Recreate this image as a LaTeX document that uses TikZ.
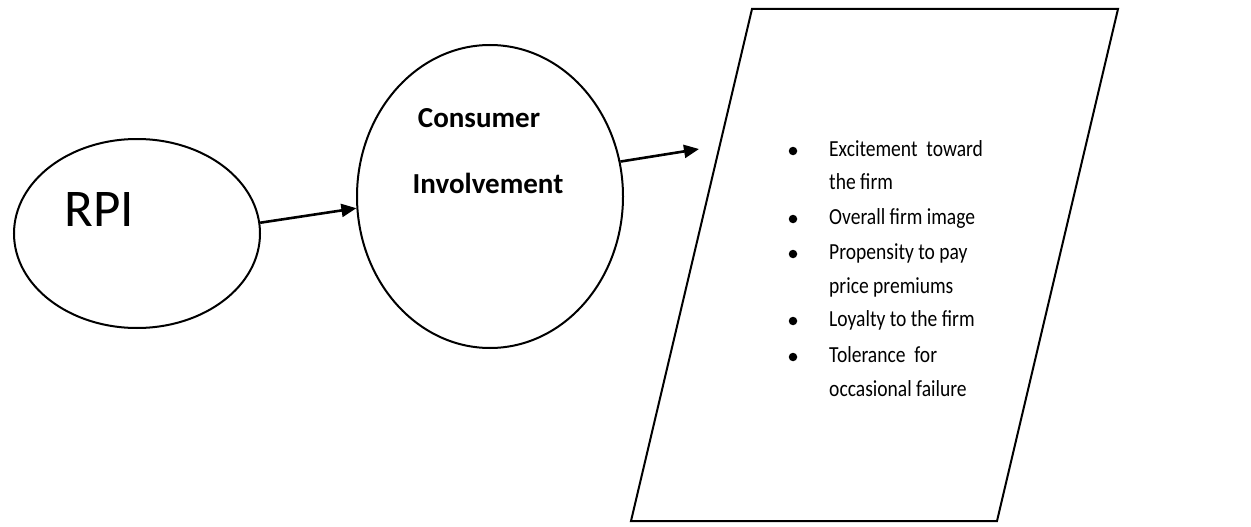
\documentclass[tikz,border=0pt]{standalone}
\usepackage{fontspec}
\setmainfont{Carlito}
\newfontfamily\narrowfont[FakeStretch=0.85]{Carlito}
\usetikzlibrary{shapes.geometric,arrows.meta}
\begin{document}
\begin{tikzpicture}[x=1pt,y=-1pt,
  shapebox/.style={draw,line width=2pt,ellipse,inner sep=0pt},
  conn/.style={line width=2.6pt,-{Triangle[length=15pt,width=13pt]}},
  txt/.style={anchor=base,inner sep=0pt},
  item/.style={anchor=base west,inner sep=0pt,font=\narrowfont\fontsize{23}{28}\selectfont},
  dot/.style={circle,fill,inner sep=0pt,minimum size=8.5pt}]
\useasboundingbox (0,0) rectangle (1251,527);
% ellipses
\node[shapebox,minimum width=246pt,minimum height=189pt] (rpi) at (137,233.5) {};
\node[txt,font=\fontsize{53}{60}\selectfont] (rpit) at (99.5,226) {RPI};
\node[shapebox,minimum width=266pt,minimum height=303pt] (ci) at (490,196.5) {};
\node[txt,font=\fontsize{29}{34}\selectfont\bfseries] (cit1) at (479,127) {Consumer};
\node[txt,font=\fontsize{29}{34}\selectfont\bfseries] (cit2) at (488,193) {Involvement};
% parallelogram
\coordinate (p1) at (752,9);
\coordinate (p2) at (1118,9);
\coordinate (p3) at (997,521);
\coordinate (p4) at (631,521);
\draw[line width=2pt] (p1) -- (p2) -- (p3) -- (p4) -- cycle;
% arrows
\coordinate (tip) at (699,149);
\draw[conn] (rpi.5) -- (ci.185);
\draw[conn] (ci.15) -- (tip);
% list
\node[dot] (b1) at (793,151) {};
\node[item] (l1) at (829,156) {Excitement\ \ toward};
\node[item] (l2) at (829,189) {the firm};
\node[dot] (b2) at (793,219) {};
\node[item] (l3) at (829,224) {Overall firm image};
\node[dot] (b3) at (793,254) {};
\node[item] (l4) at (829,259) {Propensity to pay};
\node[item] (l5) at (829,293) {price premiums};
\node[dot] (b4) at (793,321) {};
\node[item] (l6) at (829,326) {Loyalty to the firm};
\node[dot] (b5) at (793,357) {};
\node[item] (l7) at (829,362) {Tolerance\ \ for};
\node[item] (l8) at (829,396) {occasional failure};
\end{tikzpicture}
\end{document}
